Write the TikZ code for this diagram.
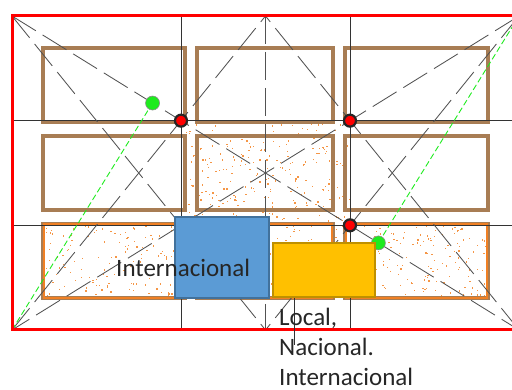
\documentclass[tikz,border=0pt]{standalone}
\usepackage{fontspec}
\setmainfont{Carlito}
\usetikzlibrary{calc}

\definecolor{framered}{RGB}{255,0,0}
\definecolor{cellbrown}{RGB}{168,125,84}
\definecolor{zoneorange}{RGB}{240,128,36}
\definecolor{speckorange}{RGB}{245,150,70}
\definecolor{boxblue}{RGB}{91,155,213}
\definecolor{boxblueline}{RGB}{65,113,156}
\definecolor{boxgold}{RGB}{255,192,0}
\definecolor{boxgoldline}{RGB}{191,144,0}
\definecolor{perpgreen}{RGB}{30,235,30}

\begin{document}
\begin{tikzpicture}[x=1pt,y=-1pt,
  guide/.style={black!80,line width=0.9pt},
  armature/.style={black!68,line width=0.85pt,dash pattern=on 28pt off 8pt},
  perp/.style={perpgreen,line width=0.9pt,dash pattern=on 6pt off 3pt},
  cell/.style={draw=cellbrown,line width=3.5pt},
  hotcell/.style={draw=zoneorange,line width=1.6pt},
  thirdpt/.style={fill=red,draw=black!85,line width=2.2pt},
  footpt/.style={fill=perpgreen,draw=black!45,line width=0.6pt},
  lbl/.style={inner sep=0pt,text=black!85,font=\fontsize{25}{30}\selectfont}]

\useasboundingbox (0,0) rectangle (512,390);
\clip (0,0) rectangle (512,390);

% Frame corners
\coordinate (TL) at (12,16);
\coordinate (TR) at (519,16);
\coordinate (BL) at (12,330);
\coordinate (BR) at (519,330);

% Middle of top and bottom edge
\coordinate (TM) at ($(TL)!0.5!(TR)$);
\coordinate (BM) at ($(BL)!0.5!(BR)$);

% Rule of thirds
\coordinate (X1) at ($(TL)!1/3!(TR)$);
\coordinate (X2) at ($(TL)!2/3!(TR)$);
\coordinate (Y1) at ($(TL)!1/3!(BL)$);
\coordinate (Y2) at ($(TL)!2/3!(BL)$);
\coordinate (X1b) at ($(BL)!1/3!(BR)$);
\coordinate (X2b) at ($(BL)!2/3!(BR)$);
\coordinate (Y1r) at ($(TR)!1/3!(BR)$);
\coordinate (Y2r) at ($(TR)!2/3!(BR)$);

% Feet of the perpendiculars on the diagonal
\coordinate (G1) at ($(TL)!(BL)!(BR)$);
\coordinate (G2) at ($(TL)!(TR)!(BR)$);

% Speckled zone
\begin{scope}
  \clip (43,224) -- (181,224) -- (181,121) -- (350,121) -- (350,224)
    -- (488,224) -- (488,298) -- (43,298) -- cycle;
  \pgfmathsetseed{11}
  \foreach \i in {1,...,1100}{
    \pgfmathsetmacro{\dx}{43+445*rnd}
    \pgfmathsetmacro{\dy}{121+177*rnd}
    \fill[speckorange] (\dx,\dy) rectangle ++(1.3,1.3);
  }
\end{scope}

% Cells
\foreach \xa/\xb in {43/185,197/333,345/488}
  \foreach \ya/\yb in {48/122,136/210,224/298}
    \draw[cell] (\xa,\ya) rectangle (\xb,\yb);

% Outline of the zone
\draw[zoneorange,line width=1pt] (181,224) -- (181,121) -- (350,121) -- (350,224);
\foreach \xa/\xb in {43/185,197/333,345/488}
  \draw[hotcell] (\xa+1,224) rectangle (\xb-1,298);

% Thirds grid
\draw[guide] (X1) -- (X1b);
\draw[guide] (X2) -- (X2b);
\draw[guide] (Y1) -- (Y1r);
\draw[guide] (Y2) -- (Y2r);

% Armature lines
\draw[armature] (TL) -- (BR);
\draw[armature] (TR) -- (BL);
\draw[armature] (TM) -- (BM);
\draw[armature] (TL) -- (BM);
\draw[armature] (TR) -- (BM);
\draw[armature] (BL) -- (TM);
\draw[armature] (BR) -- (TM);

% Perpendiculars
\draw[perp] (BL) -- (G1);
\draw[perp] (TR) -- (G2);

% Frame
\draw[framered,line width=3pt] (TL) rectangle (BR);

% Points
\foreach \P in {X1,X2}
  \foreach \Q in {Y1,Y2}
    \fill[thirdpt] (\P |- \Q) circle (6pt);
\fill[footpt] (G1) circle (7pt);
\fill[footpt] (G2) circle (7pt);

% Boxes
\node[fill=boxblue,draw=boxblueline,line width=1.5pt,minimum width=94pt,
  minimum height=81pt,inner sep=0pt] (intlbox) at (222,257.5) {};
\node[fill=boxgold,draw=boxgoldline,line width=2pt,minimum width=102pt,
  minimum height=54pt,inner sep=0pt] (allbox) at (324,270) {};

% Labels
\node[lbl,anchor=base west] (intl) at (116,277) {Internacional};
\coordinate (tail) at (294,345);
\draw[black!80,line width=0.9pt] (allbox.south -| tail) -- (tail);
\node[lbl,align=left,anchor=north west] (scopes) at (279,307.5)
  {Local,\\Nacional.\\Internacional};

\end{tikzpicture}
\end{document}
